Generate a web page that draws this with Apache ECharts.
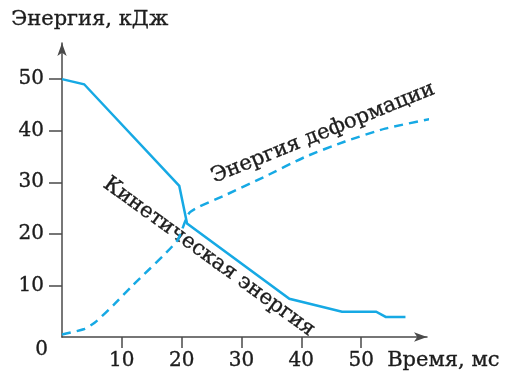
<!DOCTYPE html>
<html>
<head>
<meta charset="utf-8">
<script src="https://cdn.jsdelivr.net/npm/echarts@6/dist/echarts.min.js"></script>
<style>
  html, body { margin: 0; padding: 0; background: #ffffff; }
  #chart { width: 507px; height: 374px; }
</style>
</head>
<body>
<div id="chart"></div>
<script>
// Kinetic energy of the body over time (solid line)
var kinTime   = [0, 3.7, 19.6, 20.9, 38.0, 46.8, 52.5, 54.1, 57.4];
var kinEnergy = [50, 49.0, 29.3, 22.0, 7.4, 4.9, 4.9, 3.9, 3.9];

// Deformation energy over time (dashed line)
var defTime   = [0, 3.6, 5.5, 8.6, 11.9, 19.2, 21.4, 27.3, 33.9, 40.6, 47.3, 54.0, 62.1];
var defEnergy = [0.5, 1.5, 2.8, 6.2, 10.1, 18.6, 24.2, 27.5, 31.1, 34.9, 37.9, 40.4, 42.4];

var xTicks = [10, 20, 30, 40, 50];
var yTicks = [10, 20, 30, 40, 50];

var LINE = '#16a9e4';
var INK = '#1c1c1c';
var AXIS = '#4a4a4a';
var FONT = '"DejaVu Serif", "Liberation Serif", serif';

function pairs(xs, ys) {
  return xs.map(function (x, i) { return [x, ys[i]]; });
}

function label(text, size) {
  return { text: text, fill: INK, font: size + 'px ' + FONT,
    stroke: INK, lineWidth: 0.35 };
}

var chart = echarts.init(document.getElementById('chart'), null, { renderer: 'canvas' });

chart.setOption({
  animation: false,
  backgroundColor: '#ffffff',
  grid: { left: 62, right: 80, top: 43, bottom: 37 },
  xAxis: {
    type: 'value',
    min: 0,
    max: 61,
    interval: 10,
    splitLine: { show: false },
    axisLine: {
      lineStyle: { color: AXIS, width: 1.5 },
      symbol: ['none', 'arrow'],
      symbolSize: [7, 13]
    },
    axisTick: { show: true, length: 11, lineStyle: { color: AXIS, width: 1.5 },
      customValues: xTicks },
    axisLabel: {
      margin: 14,
      color: INK,
      fontFamily: FONT,
      fontSize: 20,
      textBorderColor: INK,
      textBorderWidth: 0.35,
      customValues: xTicks
    }
  },
  yAxis: {
    type: 'value',
    min: 0,
    max: 57,
    interval: 10,
    splitLine: { show: false },
    axisLine: {
      lineStyle: { color: AXIS, width: 1.5 },
      symbol: ['none', 'arrow'],
      symbolSize: [7, 13]
    },
    axisTick: { show: true, length: 13, lineStyle: { color: AXIS, width: 1.5 },
      customValues: yTicks },
    axisLabel: {
      margin: 18,
      color: INK,
      fontFamily: FONT,
      fontSize: 20,
      textBorderColor: INK,
      textBorderWidth: 0.35,
      customValues: yTicks
    }
  },
  graphic: [
    { type: 'text', left: 11, top: 9, style: label('Энергия, кДж', 21) },
    { type: 'text', left: 387, top: 350, style: label('Время, мс', 21) },
    { type: 'text', left: 35, top: 340, style: label('0', 20) },
    { type: 'text', x: 323, y: 133, rotation: 22 * Math.PI / 180,
      style: Object.assign(label('Энергия деформации', 21),
        { align: 'center', verticalAlign: 'middle' }) },
    { type: 'text', x: 209, y: 257, rotation: -36 * Math.PI / 180,
      style: Object.assign(label('Кинетическая энергия', 21),
        { align: 'center', verticalAlign: 'middle' }) }
  ],
  series: [
    {
      name: 'Кинетическая энергия',
      type: 'line',
      data: pairs(kinTime, kinEnergy),
      showSymbol: false,
      clip: false,
      lineStyle: { color: LINE, width: 2.5, join: 'miter' }
    },
    {
      name: 'Энергия деформации',
      type: 'line',
      data: pairs(defTime, defEnergy),
      showSymbol: false,
      clip: false,
      smooth: 0.2,
      lineStyle: { color: LINE, width: 2.5, type: [9, 6] }
    }
  ]
});
</script>
</body>
</html>
